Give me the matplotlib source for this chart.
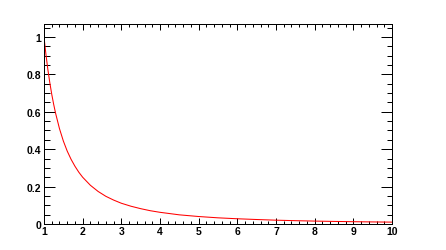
import matplotlib
matplotlib.use("Agg")
import matplotlib.pyplot as plt
from matplotlib.ticker import MultipleLocator, FixedLocator, FixedFormatter

# Values
x_vals = [1.0, 1.05, 1.1, 1.15, 1.2, 1.25, 1.3, 1.4, 1.5, 1.6, 1.7, 1.8, 1.9, 2.0,
          2.2, 2.4, 2.6, 2.8, 3.0, 3.25, 3.5, 3.75, 4.0, 4.5, 5.0, 5.5, 6.0,
          6.5, 7.0, 7.5, 8.0, 8.5, 9.0, 9.5, 10.0]
y_vals = [1.0, 0.907, 0.826, 0.756, 0.694, 0.64, 0.592, 0.51, 0.444, 0.39, 0.346,
          0.309, 0.277, 0.25, 0.207, 0.174, 0.148, 0.128, 0.111, 0.095, 0.082,
          0.071, 0.0625, 0.049, 0.04, 0.033, 0.028, 0.024, 0.0204, 0.0178,
          0.0156, 0.0138, 0.0123, 0.0111, 0.01]

x_ticks = [1, 2, 3, 4, 5, 6, 7, 8, 9, 10]
x_tick_labels = ["1", "2", "3", "4", "5", "6", "7", "8", "9", "10"]
y_ticks = [0, 0.2, 0.4, 0.6, 0.8, 1.0]
y_tick_labels = ["0", "0.2", "0.4", "0.6", "0.8", "1"]

plt.rcParams['font.family'] = ['Liberation Sans', 'DejaVu Sans']
plt.rcParams['font.weight'] = 'bold'

fig = plt.figure(figsize=(4.46, 2.51), dpi=100)
W, H = 446, 251
ax = fig.add_axes([44 / W, (H - 225) / H, 348 / W, 200 / H])

ax.plot(x_vals, y_vals, color="#ff0000", linewidth=0.75)

ax.set_xlim(1, 10)
ax.set_ylim(0, 1.0695)

ax.xaxis.set_major_locator(FixedLocator(x_ticks))
ax.xaxis.set_major_formatter(FixedFormatter(x_tick_labels))
ax.xaxis.set_minor_locator(MultipleLocator(0.2))
ax.yaxis.set_major_locator(FixedLocator(y_ticks))
ax.yaxis.set_major_formatter(FixedFormatter(y_tick_labels))
ax.yaxis.set_minor_locator(MultipleLocator(0.05))

px = 72 / 100
ax.tick_params(axis='x', which='major', direction='in', length=6 * px, width=1 * px,
               top=True, bottom=True, labelsize=7.5, pad=2 * px, colors='black')
ax.tick_params(axis='x', which='minor', direction='in', length=3 * px, width=1 * px,
               top=True, bottom=True)
ax.tick_params(axis='y', which='major', direction='in', length=11 * px, width=1 * px,
               left=True, right=True, labelsize=7.5, pad=3 * px, colors='black')
ax.tick_params(axis='y', which='minor', direction='in', length=5.5 * px, width=1 * px,
               left=True, right=True)

for s in ax.spines.values():
    s.set_linewidth(1 * px)
    s.set_color('black')

for lab in ax.get_xticklabels() + ax.get_yticklabels():
    lab.set_fontweight('bold')

fig.savefig("out.png", dpi=100)
